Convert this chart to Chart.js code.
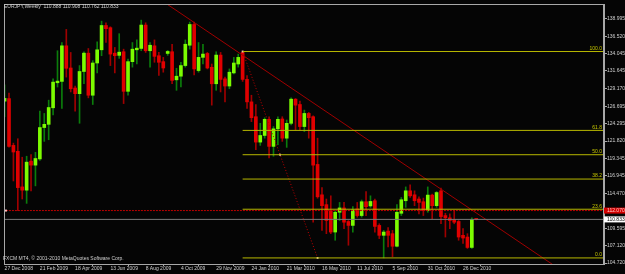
<!DOCTYPE html>
<html>
<head>
<meta charset="utf-8">
<script src="https://cdn.jsdelivr.net/npm/chart.js@4.4.0/dist/chart.umd.min.js"></script>
<style>
  html, body { margin: 0; padding: 0; background: #000; overflow: hidden; }
</style>
</head>
<body>
<canvas id="chart" width="625" height="274"></canvas>
<script>
// EURJPY weekly bars, one per week starting 27 Dec 2008
const opens = [127.41, 127.77, 121.21, 120.38, 115.39, 114.93, 119.00, 118.44, 119.31, 123.71,
  124.16, 126.48, 129.99, 130.18, 135.17, 132.06, 129.25, 128.46, 131.57, 134.14,
  128.24, 132.76, 134.61, 138.02, 137.71, 134.14, 133.83, 134.34, 128.79, 132.95,
  134.61, 134.80, 138.08, 134.48, 135.17, 133.78, 132.95, 134.10, 134.34, 130.40,
  130.91, 132.40, 135.25, 138.16, 131.70, 133.55, 134.10, 132.16, 129.85, 133.87,
  130.54, 129.53, 131.37, 132.62, 134.24, 130.46, 127.31, 125.23, 121.67, 122.60,
  124.86, 121.07, 123.53, 124.91, 122.22, 124.30, 127.69, 126.94, 123.85, 125.69,
  125.23, 118.54, 114.28, 112.90, 112.07, 109.06, 111.83, 112.44, 110.54, 109.99,
  112.30, 111.37, 113.31, 112.72, 113.45, 109.99, 108.60, 109.20, 108.83, 107.07,
  111.69, 113.45, 114.84, 114.28, 113.69, 113.31, 112.07, 114.24, 112.76, 114.84,
  111.37, 111.05, 110.77, 110.54, 108.60, 108.36, 106.90, 110.888];
const highs = [129.71, 128.56, 121.53, 122.14, 119.55, 119.69, 119.92, 120.24, 126.02, 125.69,
  127.55, 130.54, 134.48, 135.63, 137.47, 134.24, 129.53, 132.40, 134.34, 134.79,
  133.09, 135.72, 138.63, 138.40, 137.84, 134.94, 136.87, 134.70, 133.31, 135.63,
  136.00, 138.77, 138.40, 135.63, 136.00, 134.24, 133.55, 134.52, 135.39, 132.02,
  132.86, 136.00, 138.50, 138.50, 135.63, 135.39, 134.24, 132.62, 134.34, 134.24,
  130.78, 131.93, 133.55, 134.01, 134.37, 131.01, 128.24, 126.94, 124.31, 125.09,
  125.23, 123.85, 125.23, 125.23, 124.77, 127.87, 127.77, 127.41, 126.16, 125.83,
  125.37, 122.22, 115.29, 113.69, 114.14, 112.07, 113.21, 113.21, 110.68, 112.62,
  113.21, 113.55, 114.74, 114.14, 113.69, 110.22, 109.29, 109.67, 109.29, 112.90,
  113.91, 115.39, 115.67, 114.84, 114.01, 113.82, 115.39, 114.38, 114.74, 115.21,
  111.69, 111.61, 112.07, 110.68, 109.53, 108.83, 111.05, 110.908];
const lows = [125.23, 120.95, 116.22, 112.07, 113.69, 113.08, 114.84, 115.53, 119.09, 121.77,
  122.00, 125.47, 129.39, 126.38, 130.78, 128.70, 126.02, 124.31, 129.85, 127.87,
  126.94, 131.37, 133.78, 135.63, 132.40, 131.37, 133.41, 127.07, 128.24, 132.18,
  132.62, 134.48, 134.24, 132.18, 132.86, 131.01, 131.47, 133.83, 129.85, 128.93,
  129.39, 132.18, 134.70, 131.09, 131.47, 132.62, 131.93, 126.85, 128.93, 128.70,
  127.31, 129.15, 131.23, 132.18, 130.18, 126.38, 124.54, 120.62, 121.21, 122.22,
  119.45, 119.69, 121.31, 121.77, 120.93, 124.08, 123.39, 123.39, 123.15, 122.22,
  110.44, 113.80, 109.29, 108.83, 108.83, 107.91, 110.68, 109.53, 107.21, 109.06,
  111.14, 111.14, 111.37, 112.52, 109.06, 108.14, 105.43, 106.98, 105.59, 106.98,
  111.37, 112.52, 113.91, 112.76, 111.61, 111.37, 111.83, 110.91, 112.52, 110.22,
  108.36, 109.53, 110.22, 107.91, 107.45, 106.76, 106.76, 110.762];
const closes = [127.80, 121.07, 120.28, 115.29, 114.93, 118.86, 118.44, 119.37, 123.71, 124.16,
  126.52, 130.08, 130.22, 135.17, 132.02, 129.15, 128.46, 131.57, 134.14, 128.24,
  132.76, 134.61, 138.02, 137.57, 134.01, 133.78, 134.28, 128.79, 132.95, 134.70,
  134.84, 138.08, 134.48, 135.25, 133.69, 132.86, 132.06, 134.38, 130.32, 130.91,
  132.40, 135.39, 138.16, 131.93, 133.55, 134.01, 132.06, 129.85, 133.87, 130.46,
  129.53, 131.47, 132.76, 133.55, 130.46, 127.31, 125.09, 121.67, 122.60, 124.86,
  121.07, 123.53, 124.86, 122.22, 124.30, 127.69, 126.85, 123.85, 125.69, 125.09,
  118.44, 114.00, 112.76, 110.68, 109.06, 111.83, 112.44, 110.44, 109.99, 112.16,
  111.37, 113.31, 112.62, 113.35, 109.85, 108.60, 109.06, 108.60, 107.07, 111.83,
  113.59, 114.84, 114.14, 113.45, 113.22, 112.07, 114.24, 112.76, 114.60, 111.23,
  111.05, 110.68, 110.44, 108.36, 108.22, 106.90, 110.82, 110.833];

const dateLabels = ['27 Dec 2008', '21 Feb 2009', '18 Apr 2009', '13 Jun 2009', '8 Aug 2009',
  '4 Oct 2009', '29 Nov 2009', '24 Jan 2010', '21 Mar 2010', '16 May 2010', '11 Jul 2010',
  '5 Sep 2010', '31 Oct 2010', '26 Dec 2010'];
const dateTickBars = [0, 8, 16, 24, 32, 40, 48, 56, 64, 72, 80, 88, 96, 104];
const priceTicks = [138.995, 136.520, 134.045, 131.645, 129.170, 126.695, 124.295, 121.820,
  119.345, 116.945, 114.470, 111.995, 109.595, 107.120, 104.720];

// fibonacci retracement object
const fibNames = ['100.0', '61.8', '50.0', '38.2', '23.6', '0.0'];
const fibPrices = [134.37, 123.31, 119.90, 116.49, 112.26, 105.43];
const fibBars = [54, 62.5, 71];
const fibDiag = [134.37, 119.90, 105.43];

// other objects
const trendBars = [30, 136];
const trendPrices = [143.87, 99.64];
const lowLine = 112.07;
const bidPrice = 110.833;
const header = 'EURJPY,Weekly  110.888 110.908 110.762 110.833';
const copyright = 'FXCM MT4, \u00a9 2001-2010 MetaQuotes Software Corp.';

const FONT = '"Liberation Sans", Arial, sans-serif';
const idx = opens.map((_, i) => i);
const up = idx.filter(i => closes[i] >= opens[i]);
const dn = idx.filter(i => closes[i] < opens[i]);
const body = list => list.map(i => ({ x: i, y: [opens[i], closes[i]] }));
const wick = list => list.map(i => ({ x: i, y: [lows[i], highs[i]] }));

function hline(price, x0, color, extra) {
  return Object.assign({
    type: 'line',
    data: [{ x: x0, y: price }, { x: 140, y: price }],
    borderColor: color, borderWidth: 1, pointRadius: 0, tension: 0, order: 0
  }, extra || {});
}

const fibSets = fibPrices.map(p => hline(p, fibBars[0], '#b8b800'));

const extras = {
  id: 'extras',
  beforeDraw(chart) {
    const ctx = chart.ctx;
    ctx.save();
    ctx.fillStyle = '#050505';
    ctx.fillRect(0, 0, chart.width, chart.height);
    ctx.restore();
  },
  afterDraw(chart) {
    const { ctx, chartArea: a, scales: { y } } = chart;
    ctx.save();
    ctx.strokeStyle = '#a8a8a8';
    ctx.lineWidth = 1;
    ctx.strokeRect(a.left + 0.5, a.top + 0.5, a.right - a.left - 1, a.bottom - a.top);

    ctx.font = '5px ' + FONT;
    ctx.fillStyle = '#d0d0d0';
    ctx.textAlign = 'left';
    ctx.textBaseline = 'middle';
    ctx.fillText(header, 4, 6.5);
    ctx.fillText(copyright, 3, 259);

    ctx.fillStyle = '#c8c800';
    ctx.textAlign = 'right';
    ctx.textBaseline = 'bottom';
    fibNames.forEach((n, i) => ctx.fillText(n, a.right - 2, y.getPixelForValue(fibPrices[i]) - 0.5));

    ctx.textAlign = 'left';
    ctx.textBaseline = 'middle';
    const ry = y.getPixelForValue(lowLine);
    ctx.fillStyle = '#d40000';
    ctx.fillRect(a.right, ry - 3, 21, 6);
    ctx.fillStyle = '#ffc8c8';
    ctx.fillText(lowLine.toFixed(3), a.right + 3, ry);
    const by = y.getPixelForValue(bidPrice);
    ctx.fillStyle = '#ffffff';
    ctx.fillRect(a.right, by - 3, 21, 6);
    ctx.fillStyle = '#000000';
    ctx.fillText(bidPrice.toFixed(3), a.right + 3, by);
    ctx.restore();
  }
};

new Chart(document.getElementById('chart'), {
  type: 'bar',
  data: {
    datasets: [
      hline(bidPrice, -1, '#7a7a7a'),
      hline(lowLine, 0.3, '#c00000', {
        borderDash: [2, 1], pointRadius: [1.4, 0], pointStyle: 'rect',
        pointBackgroundColor: '#ffc0c0', pointBorderWidth: 0
      }),
      ...fibSets,
      {
        type: 'line',
        data: trendBars.map((b, i) => ({ x: b, y: trendPrices[i] })),
        borderColor: '#a00000', borderWidth: 1, pointRadius: 0, order: 0
      },
      {
        type: 'line',
        data: fibBars.map((b, i) => ({ x: b, y: fibDiag[i] })),
        borderColor: '#c00000', borderWidth: 1, borderDash: [1, 2],
        pointRadius: 1.3, pointStyle: 'rect', pointBackgroundColor: '#ffd8d8',
        pointBorderWidth: 0, order: 0
      },
      { data: body(up), backgroundColor: '#7cfc00', barThickness: 3, grouped: false, minBarLength: 1, order: 2 },
      { data: body(dn), backgroundColor: '#e00000', barThickness: 3, grouped: false, minBarLength: 1, order: 2 },
      { data: wick(up), backgroundColor: '#0b7d0b', barThickness: 1, grouped: false, order: 3 },
      { data: wick(dn), backgroundColor: '#a00000', barThickness: 1, grouped: false, order: 3 }
    ]
  },
  options: {
    responsive: false,
    animation: false,
    layout: { padding: { left: 1, top: 1, right: 0, bottom: 0 } },
    plugins: { legend: { display: false }, tooltip: { enabled: false } },
    scales: {
      x: {
        type: 'linear',
        min: -0.135,
        max: 135.98,
        bounds: 'data',
        offset: false,
        grid: { drawOnChartArea: false, drawTicks: true, tickLength: 2, color: '#a8a8a8' },
        border: { display: true, color: '#a8a8a8' },
        ticks: {
          autoSkip: false, maxRotation: 0, align: 'start', padding: 0,
          color: '#d0d0d0', font: { size: 5, family: FONT },
          callback: (v, i) => dateLabels[i]
        },
        afterBuildTicks: s => { s.ticks = dateTickBars.map(v => ({ value: v })); },
        afterFit: s => { s.height = 10; s.paddingLeft = 0; s.paddingRight = 0; }
      },
      y: {
        type: 'linear',
        position: 'right',
        min: 104.58,
        max: 141.032,
        bounds: 'data',
        grid: { drawOnChartArea: false, drawTicks: true, tickLength: 3, color: '#a8a8a8' },
        border: { display: true, color: '#a8a8a8' },
        ticks: {
          autoSkip: false, padding: 0,
          color: '#d0d0d0', font: { size: 5, family: FONT },
          callback: v => v.toFixed(3)
        },
        afterBuildTicks: s => { s.ticks = priceTicks.map(v => ({ value: v })); },
        afterFit: s => { s.width = 21; s.paddingTop = 0; s.paddingBottom = 0; }
      }
    }
  },
  plugins: [extras]
});
</script>
</body>
</html>
